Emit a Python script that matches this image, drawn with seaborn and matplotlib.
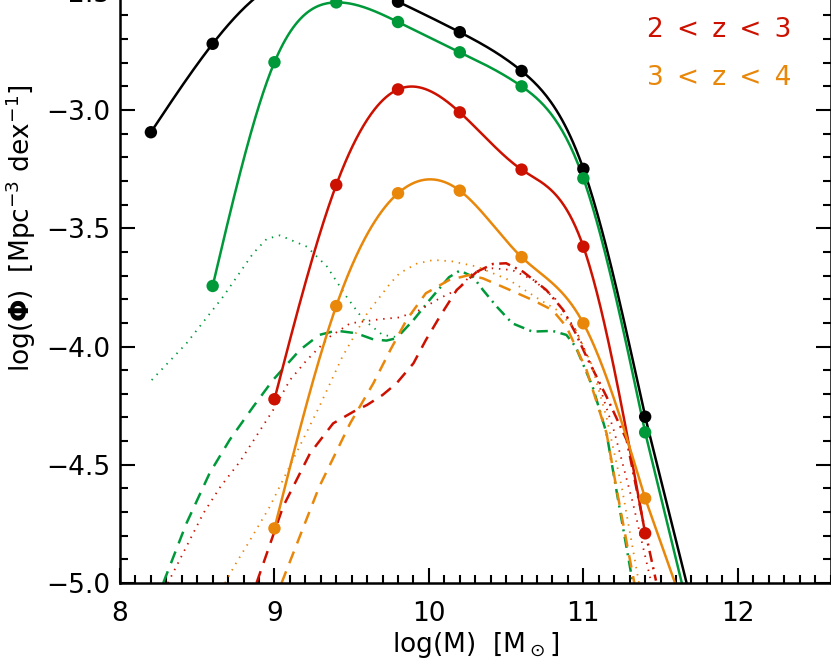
import matplotlib
matplotlib.use("Agg")
import matplotlib.pyplot as plt
import matplotlib.ticker as ticker
import numpy as np
import seaborn as sns

# ---------------------------------------------------------------------------
# Data
# ---------------------------------------------------------------------------
BLACK = "#000000"
GREEN = "#00993A"
RED = "#CC1100"
ORANGE = "#E8870A"

# total mass functions (solid lines with points)
mass_black = [8.2, 8.6, 9.0, 9.4, 9.8, 10.2, 10.6, 11.0, 11.4]
phi_black = [-3.094, -2.720, -2.47, -2.44, -2.542, -2.671, -2.835, -3.249, -4.297]

mass_green = [8.6, 9.0, 9.4, 9.8, 10.2, 10.6, 11.0, 11.4]
phi_green = [-3.744, -2.798, -2.545, -2.628, -2.756, -2.900, -3.289, -4.363]

mass_red = [9.0, 9.4, 9.8, 10.2, 10.6, 11.0, 11.4]
phi_red = [-4.223, -3.317, -2.913, -3.010, -3.252, -3.578, -4.790]

mass_orange = [9.0, 9.4, 9.8, 10.2, 10.6, 11.0, 11.4]
phi_orange = [-4.769, -3.829, -3.352, -3.341, -3.622, -3.902, -4.642]

# component curves
green_dot_x = [8.205, 8.43, 8.668, 8.862, 8.95, 9.035, 9.21, 9.34, 9.466, 9.574, 9.70, 9.79]
green_dot_y = [-4.142, -3.987, -3.789, -3.606, -3.545, -3.530, -3.578, -3.662, -3.789,
               -3.885, -3.951, -3.960]

green_dash_x = [8.28, 8.43, 8.58, 8.71, 8.862, 8.99, 9.164, 9.29, 9.40, 9.53, 9.64,
                9.725, 9.79, 9.90]
green_dash_y = [-5.0, -4.748, -4.536, -4.395, -4.255, -4.142, -4.015, -3.951, -3.933,
                -3.944, -3.970, -3.975, -3.965, -3.888]

green_dashdot_x = [9.90, 10.005, 10.13, 10.20, 10.285, 10.35, 10.44, 10.54, 10.67, 10.80,
                   10.89, 10.95, 11.06, 11.15, 11.21, 11.32]
green_dashdot_y = [-3.888, -3.803, -3.707, -3.679, -3.705, -3.761, -3.832, -3.902, -3.937,
                   -3.934, -3.951, -4.001, -4.170, -4.367, -4.593, -5.0]

red_dot_x = [8.31, 8.43, 8.54, 8.65, 8.776, 9.0, 9.10, 9.21, 9.36, 9.49, 9.68, 9.81, 9.94,
             10.07, 10.18, 10.285, 10.415, 10.54, 10.68, 10.82, 10.95, 11.08, 11.2, 11.32,
             11.44]
red_dot_y = [-5.0, -4.846, -4.705, -4.593, -4.487, -4.26, -4.142, -4.057, -3.958, -3.902,
             -3.885, -3.877, -3.846, -3.796, -3.761, -3.690, -3.669, -3.677, -3.72, -3.80,
             -3.93, -4.12, -4.36, -4.66, -5.0]

red_dash_x = [8.884, 9.056, 9.23, 9.38, 9.51, 9.60, 9.70, 9.79, 9.90, 9.98, 10.07, 10.18,
              10.31]
red_dash_y = [-5.0, -4.677, -4.452, -4.325, -4.276, -4.247, -4.205, -4.156, -4.071, -3.973,
              -3.874, -3.761, -3.684]

red_dashdot_x = [10.31, 10.415, 10.50, 10.61, 10.76, 10.87, 10.95, 11.02, 11.15, 11.28,
                 11.385, 11.47]
red_dashdot_y = [-3.684, -3.651, -3.648, -3.684, -3.761, -3.846, -3.944, -4.043, -4.212,
                 -4.395, -4.734, -4.99]

orange_dot_x = [8.68, 8.744, 8.83, 8.97, 9.14, 9.29, 9.44, 9.60, 9.75, 9.81, 9.92, 10.03,
                10.15, 10.31, 10.52, 10.72, 10.83, 10.95, 11.05, 11.15, 11.25, 11.36]
orange_dot_y = [-5.0, -4.924, -4.832, -4.677, -4.452, -4.255, -4.043, -3.860, -3.733,
                -3.69, -3.65, -3.634, -3.640, -3.662, -3.719, -3.803, -3.846, -3.93,
                -4.07, -4.30, -4.60, -5.0]

orange_dash_x = [9.046, 9.29, 9.49, 9.64, 9.75, 9.855, 9.98, 10.13, 10.26, 10.35, 10.50,
                 10.67, 10.80, 10.89, 11.02, 11.15, 11.22, 11.33]
orange_dash_y = [-5.0, -4.593, -4.325, -4.156, -4.015, -3.888, -3.775, -3.719, -3.698,
                 -3.712, -3.754, -3.803, -3.846, -3.916, -4.099, -4.367, -4.62, -5.0]

labels = ["2\u2002<\u2002z\u2002<\u20023", "3\u2002<\u2002z\u2002<\u20024"]
label_colors = [RED, ORANGE]
label_x = 11.41
label_y = [-2.662, -2.865]


def natural_spline(x, y, xs):
    """Natural cubic spline through (x, y); beyond the last point it carries on
    along the last secant."""
    x = np.asarray(x, float)
    y = np.asarray(y, float)
    n = len(x)
    h = np.diff(x)
    A = np.zeros((n, n))
    b = np.zeros(n)
    A[0, 0] = A[-1, -1] = 1.0
    for i in range(1, n - 1):
        A[i, i - 1] = h[i - 1]
        A[i, i] = 2 * (h[i - 1] + h[i])
        A[i, i + 1] = h[i]
        b[i] = 6 * ((y[i + 1] - y[i]) / h[i] - (y[i] - y[i - 1]) / h[i - 1])
    M = np.linalg.solve(A, b)
    out = np.empty_like(xs)
    for k, xv in enumerate(xs):
        if xv >= x[-1]:
            s = (y[-1] - y[-2]) / h[-1]
            out[k] = y[-1] + s * (xv - x[-1])
            continue
        i = min(max(np.searchsorted(x, xv) - 1, 0), n - 2)
        t1 = x[i + 1] - xv
        t0 = xv - x[i]
        out[k] = (M[i] * t1 ** 3 + M[i + 1] * t0 ** 3) / (6 * h[i]) \
            + (y[i] / h[i] - M[i] * h[i] / 6) * t1 \
            + (y[i + 1] / h[i] - M[i + 1] * h[i] / 6) * t0
    return out


# ---------------------------------------------------------------------------
# Figure
# ---------------------------------------------------------------------------
sns.set_style("ticks")
plt.rcParams["font.family"] = ["DejaVu Sans"]
plt.rcParams["mathtext.fontset"] = "dejavusans"
for key in ("text.color", "axes.labelcolor", "xtick.color", "ytick.color"):
    plt.rcParams[key] = "black"

fig = plt.figure(figsize=(8.31, 6.62), dpi=100)
ax = fig.add_axes([120 / 831, 79 / 662, 710.5 / 831, 709.5 / 662])

LW = 1.8
DASH = (0, (5, 3.5))
DOT = (0, (0.8, 3.2))
DASHDOT = (0, (4.5, 2.2, 0.8, 2.2))

# component curves
components = [
    (green_dot_x, green_dot_y, GREEN, DOT, 1.3),
    (green_dash_x, green_dash_y, GREEN, DASH, LW),
    (green_dashdot_x, green_dashdot_y, GREEN, DASHDOT, LW),
    (red_dot_x, red_dot_y, RED, DOT, 1.3),
    (red_dash_x, red_dash_y, RED, DASH, LW),
    (red_dashdot_x, red_dashdot_y, RED, DASHDOT, LW),
    (orange_dot_x, orange_dot_y, ORANGE, DOT, 1.3),
    (orange_dash_x, orange_dash_y, ORANGE, DASH, LW),
]
for cx, cy, col, ls, lw in components:
    sns.lineplot(x=cx, y=cy, color=col, linestyle=ls, linewidth=lw,
                 estimator=None, sort=False, ax=ax)

# totals: smooth curve through points, tails run off the bottom
totals = [
    (mass_black, phi_black, BLACK, 0.45),
    (mass_green, phi_green, GREEN, 0.45),
    (mass_red, phi_red, RED, 0.0),
    (mass_orange, phi_orange, ORANGE, 0.45),
]
for mx, py, col, tail in totals:
    xs = np.linspace(mx[0], mx[-1] + tail, 400)
    ys = natural_spline(mx, py, xs)
    sns.lineplot(x=xs, y=ys, color=col, linewidth=LW,
                 estimator=None, sort=False, ax=ax)
    sns.scatterplot(x=mx, y=py, color=col, s=80, edgecolor="none",
                    zorder=5, ax=ax)

for lab, col, yy in zip(labels, label_colors, label_y):
    ax.text(label_x, yy, lab, color=col, fontsize=19, ha="left", va="center")

ax.set_xlim(8.0, 12.6)
ax.set_ylim(-5.0, -2.0)
ax.xaxis.set_major_locator(ticker.MultipleLocator(1))
ax.xaxis.set_minor_locator(ticker.MultipleLocator(0.1))
ax.yaxis.set_major_locator(ticker.MultipleLocator(0.5))
ax.yaxis.set_minor_locator(ticker.MultipleLocator(0.1))
ax.yaxis.set_major_formatter(
    ticker.FuncFormatter(lambda v, pos: f"{v:.1f}".replace("-", "\u2212")))

ax.tick_params(which="both", direction="in", top=True, right=True,
               width=1.5, colors="black", labelsize=19)
ax.tick_params(which="major", length=11)
ax.tick_params(which="minor", length=6)
ax.tick_params(axis="x", which="major", pad=13)
ax.tick_params(axis="y", which="major", pad=7)
for sp in ax.spines.values():
    sp.set_linewidth(1.8)
    sp.set_color("black")

ax.set_xlabel(r"log(M)  [M$_\odot$]", fontsize=19, labelpad=2)
ax.set_ylabel(r"log($\mathbf{\Phi}$)  [Mpc$^{-3}$ dex$^{-1}$]", fontsize=19, labelpad=6)

fig.savefig("out.png", dpi=100, facecolor="white")
plt.close(fig)
